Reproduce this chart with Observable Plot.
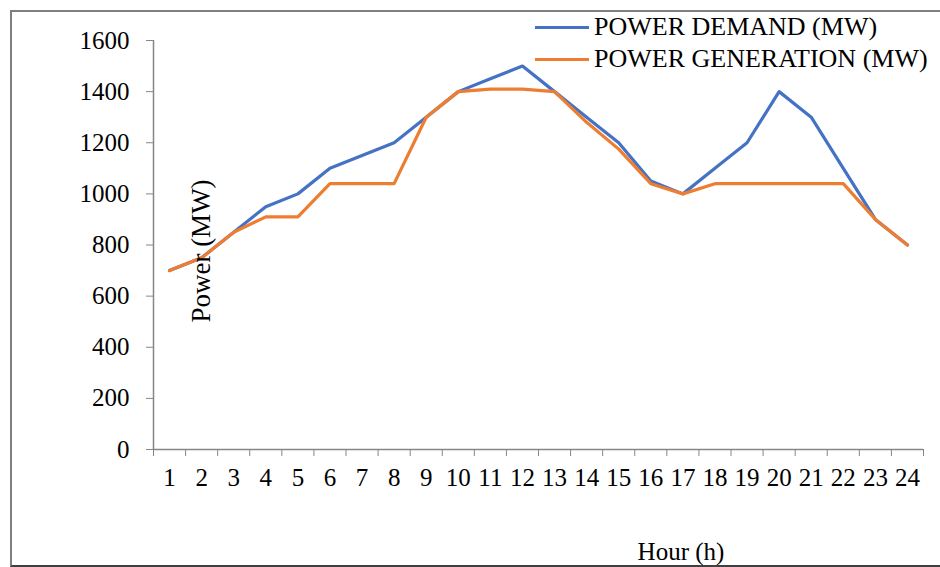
<!DOCTYPE html>
<html>
<head>
<meta charset="utf-8">
<script src="https://cdn.jsdelivr.net/npm/d3@7"></script>
<script src="https://cdn.jsdelivr.net/npm/@observablehq/plot@0.6"></script>
<style>
  html, body { margin: 0; padding: 0; background: #fff; }
  #wrap { position: relative; width: 940px; height: 567px; overflow: hidden; font-family: "Liberation Serif", "DejaVu Serif", serif; }
  #frame { position: absolute; left: 10px; top: 10px; width: 960px; height: 553px; border-left: 2px solid #7f7f7f; border-top: 2px solid #7f7f7f; border-bottom: 2px solid #404040; }
  #chart { position: absolute; left: 0; top: 0; }
  .leg { position: absolute; left: 535px; font-size: 26px; color: #000; line-height: 1; white-space: nowrap; }
  .leg span.sw { display: inline-block; width: 54px; height: 3px; vertical-align: middle; margin-right: 5px; position: relative; top: -2px; }
  #ylab { position: absolute; left: 201px; top: 251px; font-size: 27px; transform: translate(-50%, -50%) rotate(-90deg); white-space: nowrap; }
  #xlab { position: absolute; left: 681px; top: 539px; font-size: 25px; transform: translateX(-50%); white-space: nowrap; background: #fff; line-height: 1; }
</style>
</head>
<body>
<div id="wrap">
  <div id="frame"></div>
  <div id="chart"></div>
  <div class="leg" style="top:14px"><span class="sw" style="background:#4472C4"></span>POWER DEMAND (MW)</div>
  <div class="leg" style="top:46px"><span class="sw" style="background:#ED7D31"></span>POWER GENERATION (MW)</div>
  <div id="ylab">Power (MW)</div>
  <div id="xlab">Hour (h)</div>
</div>
<script>
const hours = [1,2,3,4,5,6,7,8,9,10,11,12,13,14,15,16,17,18,19,20,21,22,23,24];
const demand = [700,750,850,950,1000,1100,1150,1200,1300,1400,1450,1500,1400,1300,1200,1050,1000,1100,1200,1400,1300,1100,900,800];
const generation = [700,750,850,910,910,1040,1040,1040,1300,1400,1410,1410,1400,1280,1175,1040,1000,1040,1040,1040,1040,1040,900,800];
const yTicks = [0,200,400,600,800,1000,1200,1400,1600];

const demandData = hours.map((h, i) => ({hour: h, value: demand[i]}));
const genData = hours.map((h, i) => ({hour: h, value: generation[i]}));
const boundaries = [hours[0] - 0.5, ...hours.map(h => h + 0.5)];

const axisColor = "#868686";
const plot = Plot.plot({
  width: 940,
  height: 567,
  marginLeft: 153,
  marginRight: 17,
  marginTop: 40,
  marginBottom: 118,
  style: { fontFamily: "Liberation Serif, serif", fontSize: "25px", color: "#000", background: "transparent" },
  x: { domain: [boundaries[0], boundaries[boundaries.length - 1]] },
  y: { domain: [0, 1600] },
  marks: [
    Plot.axisY({ ticks: yTicks, tickSize: 7, tickPadding: 17, label: null, stroke: axisColor, fill: "#000", fontSize: 25, tickFormat: d => String(d) }),
    Plot.axisX({ ticks: boundaries, tickSize: 7, tickFormat: () => "", label: null, stroke: axisColor }),
    Plot.axisX({ ticks: hours, tickSize: 0, tickPadding: 19, label: null, fill: "#000", fontSize: 25, tickFormat: d => String(d) }),
    Plot.ruleY([0], { stroke: axisColor, strokeWidth: 1.5 }),
    Plot.ruleX([boundaries[0]], { y1: 0, y2: 1600, stroke: axisColor, strokeWidth: 1.5 }),
    Plot.line(demandData, { x: "hour", y: "value", stroke: "#4472C4", strokeWidth: 3.2, strokeLinejoin: "round" }),
    Plot.line(genData, { x: "hour", y: "value", stroke: "#ED7D31", strokeWidth: 3.2, strokeLinejoin: "round" })
  ]
});
document.getElementById("chart").appendChild(plot);
</script>
</body>
</html>
